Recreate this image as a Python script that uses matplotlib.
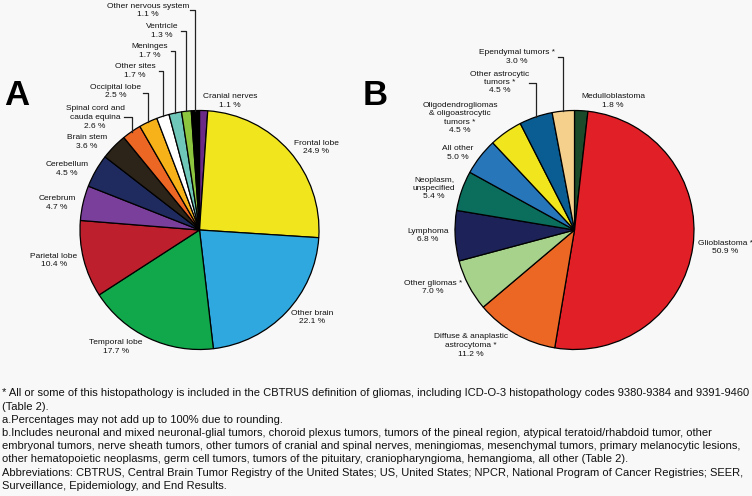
import numpy as np
import matplotlib
matplotlib.use('Agg')
import matplotlib.pyplot as plt

plt.rcParams['font.family'] = ['Liberation Sans', 'DejaVu Sans']

W, H = 752, 496

# panel A: primary brain / CNS tumors by site (clockwise from 12 o'clock)
site_labels = ['Cranial nerves', 'Frontal lobe', 'Other brain', 'Temporal lobe', 'Parietal lobe',
               'Cerebrum', 'Cerebellum', 'Brain stem', 'Spinal cord and\ncauda equina',
               'Occipital lobe', 'Other sites', 'Meninges', 'Ventricle', 'Other nervous system']
site_vals = [1.1, 24.9, 22.1, 17.7, 10.4, 4.7, 4.5, 3.6, 2.6, 2.5, 1.7, 1.7, 1.3, 1.1]
site_colors = ['#6b2a86', '#f1e61d', '#2fa7df', '#10a84b', '#bd1f2d', '#7a3f9a', '#1f2b5e',
               '#2c2419', '#ec6624', '#f7b21a', '#ffffff', '#6ec7b9', '#8cc63f', '#000000']

# panel B: malignant tumors by histology
hist_labels = ['Medulloblastoma', 'Glioblastoma *', 'Diffuse & anaplastic\nastrocytoma *',
               'Other gliomas *', 'Lymphoma', 'Neoplasm,\nunspecified', 'All other',
               'Oligodendrogliomas\n& oligoastrocytic\ntumors *', 'Other astrocytic\ntumors *',
               'Ependymal tumors *']
hist_vals = [1.8, 50.9, 11.2, 7.0, 6.8, 5.4, 5.0, 4.5, 4.5, 3.0]
hist_colors = ['#1b4a2a', '#e11f26', '#ec6624', '#a6d28b', '#1d2358', '#0b6d5c', '#2776ba',
               '#f1e61d', '#0a5d93', '#f5d08c']

# label centres (pixels, y down)
site_pos = [(230, 101), (316, 147.5), (312, 317.5), (116, 347), (54, 260.5), (57, 203),
            (67, 169), (87, 142), (95, 117.5), (116, 91.5), (135, 71), (150, 51),
            (162, 31), (148, 10.5)]
hist_pos = [(613, 101), (725, 247.5), (471, 345.5), (433, 287.5), (428, 235.5),
            (434, 188.5), (458, 153), (460, 118), (500, 82.5), (517, 57)]
# leader lines: slice index -> (y of horizontal stub, x start)
site_leaders = {13: (10, 190), 12: (31, 181), 11: (51, 171), 10: (71, 159), 9: (93, 143), 8: (117, 124)}
hist_leaders = {9: (57, 558), 8: (83, 529)}

notes = [
    '* All or some of this histopathology is included in the CBTRUS definition of gliomas, including ICD-O-3 histopathology codes 9380-9384 and 9391-9460',
    '(Table 2).',
    'a.Percentages may not add up to 100% due to rounding.',
    'b.Includes neuronal and mixed neuronal-glial tumors, choroid plexus tumors, tumors of the pineal region, atypical teratoid/rhabdoid tumor, other',
    'embryonal tumors, nerve sheath tumors, other tumors of cranial and spinal nerves, meningiomas, mesenchymal tumors, primary melanocytic lesions,',
    'other hematopoietic neoplasms, germ cell tumors, tumors of the pituitary, craniopharyngioma, hemangioma, all other (Table 2).',
    'Abbreviations: CBTRUS, Central Brain Tumor Registry of the United States; US, United States; NPCR, National Program of Cancer Registries; SEER,',
    'Surveillance, Epidemiology, and End Results.',
]

bg = '#f8f8f8'
fig = plt.figure(figsize=(W / 100, H / 100), dpi=100, facecolor=bg)
ax = fig.add_axes([0, 0, 1, 1])
ax.set_facecolor(bg)

R = 119.5


def draw_panel(vals, colors, labels, pos, leaders, cx, cy):
    ax.pie(vals, colors=colors, startangle=90, counterclock=False,
           center=(cx, H - cy), radius=R,
           wedgeprops=dict(edgecolor='black', linewidth=0.9))
    fr = np.array(vals) / sum(vals)
    cum = np.cumsum(fr) - fr / 2
    for i, lab in enumerate(labels):
        pct = '%.1f %%' % vals[i]
        x, y = pos[i]
        ax.text(x, H - y, lab + '\n' + pct, ha='center', va='center',
                fontsize=6.0, linespacing=1.3, color='#111111')
        if i in leaders:
            ly, lx = leaders[i]
            th = 2 * np.pi * cum[i]
            ex = cx + R * np.sin(th)
            ey = cy - R * np.cos(th)
            ax.plot([lx, ex, ex], [H - ly, H - ly, H - ey], color='#222222', lw=0.9)


draw_panel(site_vals, site_colors, site_labels, site_pos, site_leaders, 199.5, 230)
draw_panel(hist_vals, hist_colors, hist_labels, hist_pos, hist_leaders, 574.5, 230)

ax.text(16.5, H - 95.5, 'A', ha='center', va='center', fontsize=25, fontweight='bold')
ax.text(375.5, H - 95.5, 'B', ha='center', va='center', fontsize=25, fontweight='bold')

for k, line in enumerate(notes):
    ax.text(2, H - (393.5 + 13.2 * k), line, ha='left', va='center', fontsize=8.05, color='#111111')

ax.set_xlim(0, W)
ax.set_ylim(0, H)
ax.set_aspect('auto')
ax.axis('off')

fig.savefig('out.png', dpi=100, facecolor=bg)
